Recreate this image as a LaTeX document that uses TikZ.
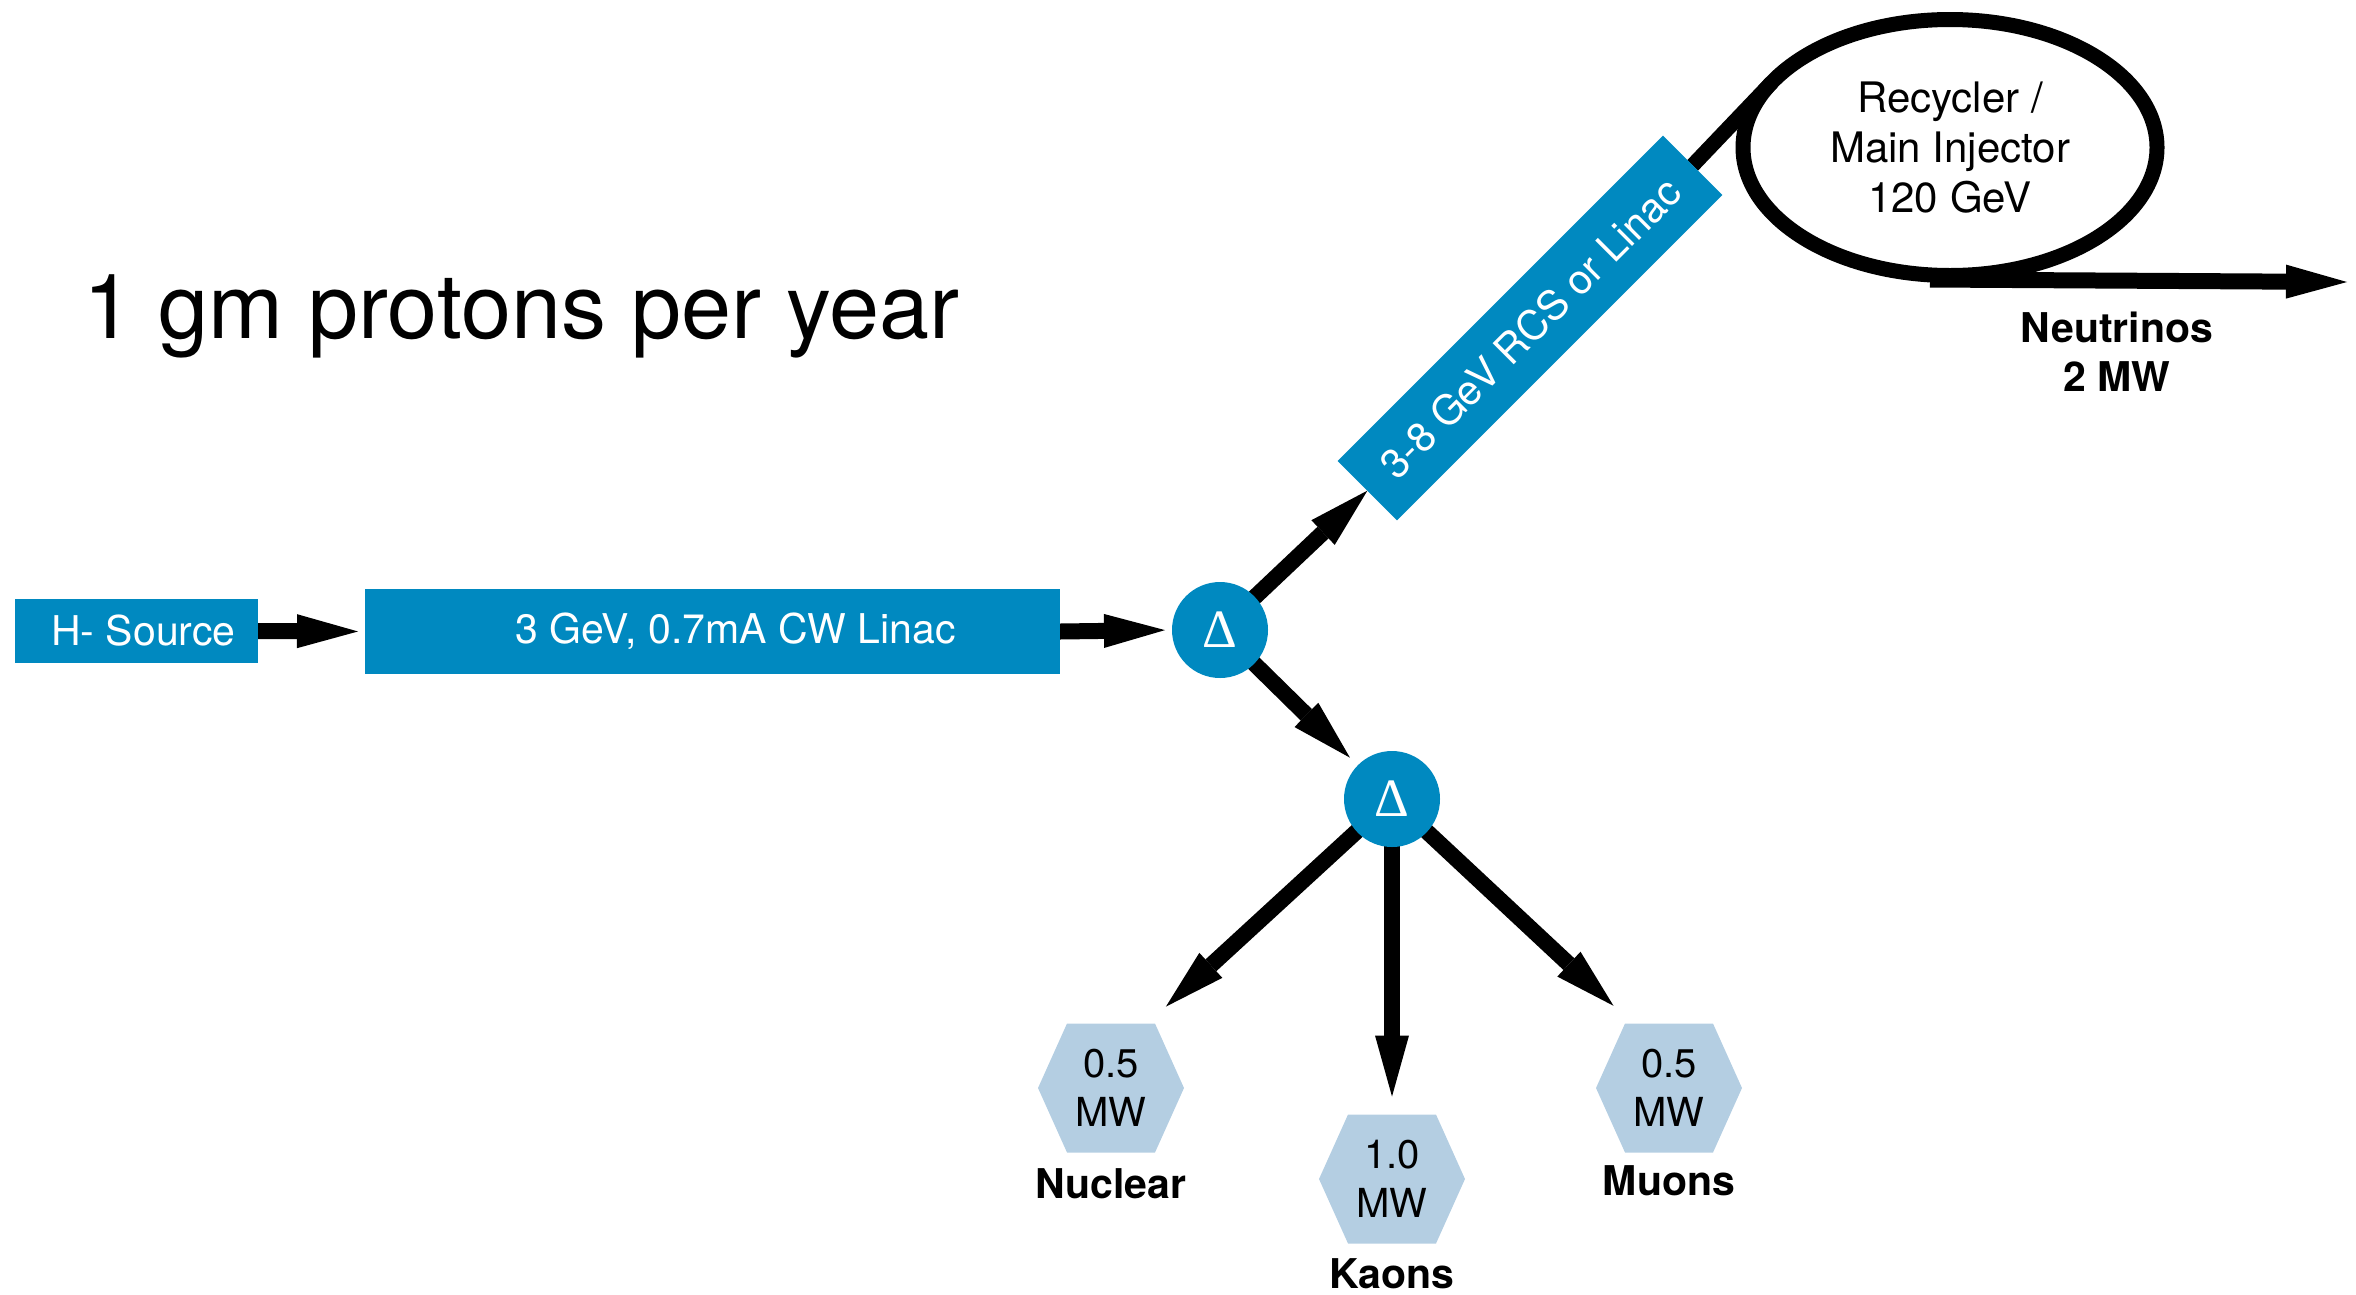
\documentclass[tikz,border=0pt]{standalone}
\usepackage{fontspec}
\setmainfont{TeX Gyre Heros}
\newfontfamily\deltafont{Liberation Serif}
\usetikzlibrary{arrows.meta,shapes.geometric,calc}
\definecolor{beamblue}{RGB}{0,137,192}
\definecolor{hexblue}{RGB}{180,206,226}
\pgfdeclarelayer{bg}
\pgfsetlayers{bg,main}
\tikzset{
  bluebox/.style={fill=beamblue, text=white, inner sep=0pt, outer sep=0pt,
    font=\fontsize{41}{49}\selectfont},
  junction/.style={circle, fill=beamblue, minimum size=96pt, inner sep=0pt, outer sep=0pt,
    text=white, font={\deltafont\fontsize{54}{54}\selectfont}},
  beam/.style={line width=16pt,
    -{Triangle[length=61pt 0 0, width=34pt 0 0, line width=0pt 0 0]}},
  ringline/.style={line width=15pt},
  ring/.style={ellipse, draw, ringline, minimum width=414pt, minimum height=256pt,
    inner sep=0pt, outer sep=0pt, align=center, font=\fontsize{42}{50}\selectfont},
  hexnode/.style={minimum width=146pt, minimum height=129pt, inner sep=0pt, outer sep=0pt,
    align=center, font=\fontsize{40}{49}\selectfont,
    path picture={\fill[hexblue]
      (path picture bounding box.west)
      -- ([xshift=29pt]path picture bounding box.north west)
      -- ([xshift=-29pt]path picture bounding box.north east)
      -- (path picture bounding box.east)
      -- ([xshift=-29pt]path picture bounding box.south east)
      -- ([xshift=29pt]path picture bounding box.south west)
      -- cycle;}},
  lbl/.style={inner sep=0pt, font=\bfseries\fontsize{41}{49}\selectfont, align=center}
}
\begin{document}
\begin{tikzpicture}[x=1pt,y=-1pt]
\useasboundingbox (0,0) rectangle (2356,1294);

% title
\node[inner sep=0pt, anchor=base west, font=\fontsize{90}{100}\selectfont] (title)
  at (83,338) {1 gm protons per year};

% linac chain
\node[bluebox, minimum width=243pt, minimum height=64pt] (hsrc) at (136.5,631)
  {\hspace*{14pt}H- Source};
\node[bluebox, minimum width=695pt, minimum height=85pt] (linac) at (712.5,631.5)
  {\hspace*{46pt}3 GeV, 0.7mA CW Linac};
\node[junction] (d1) at (1220,630) {Δ};
\node[junction] (d2) at (1392,799) {Δ};

% booster and ring
\node[bluebox, rotate=45, minimum width=460pt, minimum height=84pt] (rcs) at (1530,328)
  {3-8 GeV RCS or Linac};
\node[ring] (ring) at (1950,147.5) {Recycler /\\Main Injector\\120 GeV};
\coordinate (nuend) at (2347,282);
\node[lbl, anchor=north] (nulbl) at (2117,312) {Neutrinos\\2 MW};

% experiments
\node[hexnode] (nuc) at (1111,1088) {0.5\\MW};
\node[hexnode] (kao) at (1392,1179) {1.0\\MW};
\node[hexnode] (muo) at (1669,1088) {0.5\\MW};
\node[lbl, anchor=base] (nuclbl) at (1111,1198) {Nuclear};
\node[lbl, anchor=base] (kaolbl) at (1392,1288) {Kaons};
\node[lbl, anchor=base] (muolbl) at (1669,1195) {Muons};

% beam lines
\begin{pgfonlayer}{bg}
  \draw[beam, shorten >=7pt] (hsrc.east) -- (linac.west);
  \draw[beam, shorten >=7pt] (linac.east) -- (d1.west);
  \draw[beam] (d1.center) -- (rcs.west);
  \draw[beam, shorten >=11pt] (d1.center) -- (d2);
  \draw[ringline] (rcs.east) -- (ring.160);
  \draw[beam] ([xshift=-20pt,yshift=-4pt]ring.south) -- (nuend);
  \draw[beam, shorten >=25pt] (d2.center) -- ($(nuc.north)!0.5!(nuc.north east)$);
  \draw[beam, shorten >=18pt] (d2.center) -- (kao.north);
  \draw[beam, shorten >=26pt] (d2.center) -- ($(muo.north)!0.5!(muo.north west)$);
\end{pgfonlayer}
\end{tikzpicture}
\end{document}
